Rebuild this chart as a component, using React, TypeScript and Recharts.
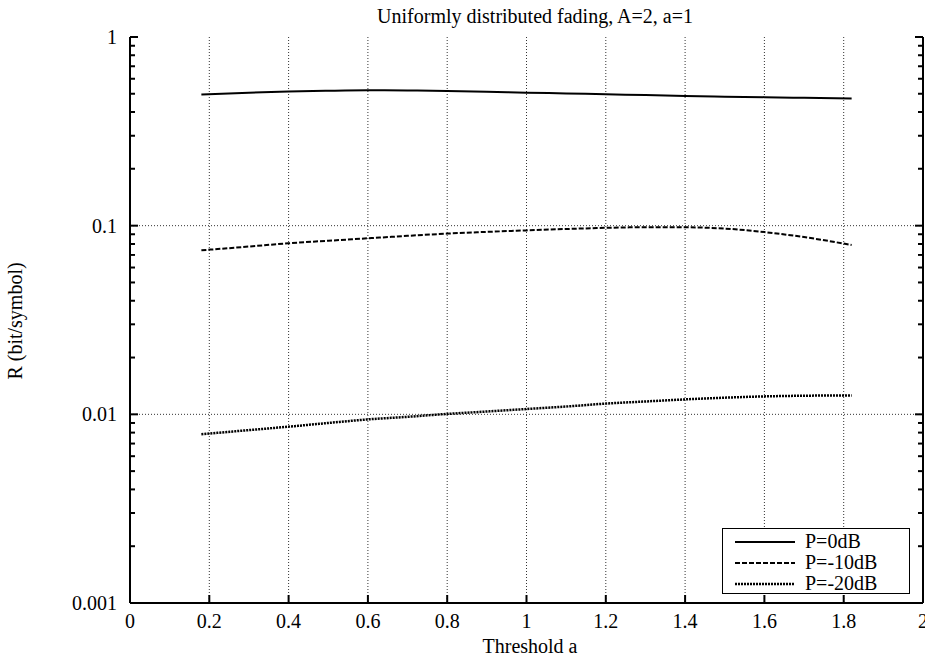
import React from "react"
import {
  ComposedChart,
  Line,
  Scatter,
  XAxis,
  YAxis,
  CartesianGrid,
  ReferenceLine,
} from "recharts"

const thresholds = [0.18, 0.3, 0.4, 0.5, 0.6, 0.7, 0.8, 0.9, 1.0, 1.1, 1.2, 1.3, 1.4, 1.5, 1.6, 1.7, 1.82]
const p0dB = [0.496, 0.507, 0.514, 0.519, 0.522, 0.521, 0.518, 0.513, 0.507, 0.502, 0.497, 0.492, 0.487, 0.483, 0.48, 0.476, 0.472]
const p10dB = [0.074, 0.0775, 0.0807, 0.0832, 0.0857, 0.0883, 0.0908, 0.0927, 0.0944, 0.096, 0.0974, 0.0981, 0.098, 0.0965, 0.0925, 0.087, 0.079]
const p20dB = [0.00784, 0.00825, 0.0086, 0.009, 0.0094, 0.0097, 0.01005, 0.01035, 0.01067, 0.011, 0.0114, 0.0117, 0.012, 0.01225, 0.01245, 0.01255, 0.0126]

const xTicks = [0, 0.2, 0.4, 0.6, 0.8, 1, 1.2, 1.4, 1.6, 1.8, 2]
const yMajor = [0.001, 0.01, 0.1, 1]
const yMinor = [
  0.002, 0.003, 0.004, 0.005, 0.006, 0.007, 0.008, 0.009,
  0.02, 0.03, 0.04, 0.05, 0.06, 0.07, 0.08, 0.09,
  0.2, 0.3, 0.4, 0.5, 0.6, 0.7, 0.8, 0.9,
]

const series = [
  { key: "p0", name: "P=0dB", dash: undefined as string | undefined, width: 2 },
  { key: "p10", name: "P=-10dB", dash: "5 2", width: 2 },
  { key: "p20", name: "P=-20dB", dash: "2 1", width: 2.5 },
]

const data = thresholds.map((x, i) => ({ x, p0: p0dB[i], p10: p10dB[i], p20: p20dB[i] }))
// minor log ticks, drawn as tiny marks on both frame sides
const minorLeft = yMinor.map((v) => ({ x: 0, y: v }))
const minorRight = yMinor.map((v) => ({ x: 2, y: v }))

const FONT = "'Liberation Serif', 'DejaVu Serif', serif"

function BottomTick(props: any) {
  const { x, y, payload } = props
  return (
    <g>
      <line x1={x} x2={x} y1={y} y2={y - 8} stroke="#000" strokeWidth={2} />
      <text x={x} y={y + 25} textAnchor="middle" fontFamily={FONT} fontSize={20} fill="#000">
        {String(payload.value)}
      </text>
    </g>
  )
}

function TopTick(props: any) {
  const { x, y } = props
  return <line x1={x} x2={x} y1={y} y2={y + 8} stroke="#000" strokeWidth={2} />
}

function LeftTick(props: any) {
  const { x, y, payload } = props
  return (
    <g>
      <line x1={x} x2={x + 8} y1={y} y2={y} stroke="#000" strokeWidth={2} />
      <text x={x - 13} y={y + 7} textAnchor="end" fontFamily={FONT} fontSize={20} fill="#000">
        {String(payload.value)}
      </text>
    </g>
  )
}

function RightTick(props: any) {
  const { x, y } = props
  return <line x1={x} x2={x - 8} y1={y} y2={y} stroke="#000" strokeWidth={2} />
}

function MinorLeft(props: any) {
  const { cx, cy } = props
  return <line x1={cx} x2={cx + 5} y1={cy} y2={cy} stroke="#000" strokeWidth={2} />
}

function MinorRight(props: any) {
  const { cx, cy } = props
  return <line x1={cx - 5} x2={cx} y1={cy} y2={cy} stroke="#000" strokeWidth={2} />
}

function LegendBox() {
  return (
    <div
      style={{
        position: "absolute",
        left: 722,
        top: 528,
        width: 188,
        height: 66,
        border: "1.5px solid #000",
        background: "#fff",
        boxSizing: "border-box",
        fontFamily: FONT,
        fontSize: 20,
        paddingTop: 2,
      }}
    >
      {series.map((s) => (
        <div key={s.key} style={{ display: "flex", alignItems: "center", height: 21 }}>
          <svg width={82} height={10} style={{ flex: "none" }}>
            <line x1={12} x2={72} y1={5} y2={5} stroke="#000" strokeWidth={s.width} strokeDasharray={s.dash} />
          </svg>
          <span style={{ lineHeight: "21px" }}>{s.name}</span>
        </div>
      ))}
    </div>
  )
}

export default function App() {
  return (
    <div style={{ position: "absolute", left: 0, top: 0, width: 925, height: 658, background: "#fff" }}>
      <ComposedChart width={925} height={658} data={data} margin={{ top: 37, right: 0, bottom: 0, left: 0 }}>
        <CartesianGrid horizontal={false} stroke="#333" strokeDasharray="1 2" />
        <ReferenceLine y={0.1} stroke="#333" strokeDasharray="1 2" />
        <ReferenceLine y={0.01} stroke="#333" strokeDasharray="1 2" />
        <XAxis
          dataKey="x"
          type="number"
          domain={[0, 2]}
          ticks={xTicks}
          interval={0}
          height={55}
          tickSize={0}
          tickMargin={0}
          tickLine={false}
          axisLine={{ stroke: "#000", strokeWidth: 2 }}
          tick={<BottomTick />}
        />
        <XAxis
          xAxisId="top"
          orientation="top"
          dataKey="x"
          type="number"
          domain={[0, 2]}
          ticks={xTicks}
          interval={0}
          height={0}
          tickSize={0}
          tickMargin={0}
          tickLine={false}
          axisLine={{ stroke: "#000", strokeWidth: 2 }}
          tick={<TopTick />}
        />
        <YAxis
          type="number"
          scale="log"
          domain={[0.001, 1]}
          allowDataOverflow
          ticks={yMajor}
          interval={0}
          width={130}
          tickSize={0}
          tickMargin={0}
          tickLine={false}
          axisLine={{ stroke: "#000", strokeWidth: 2 }}
          tick={<LeftTick />}
        />
        <YAxis
          yAxisId="right"
          orientation="right"
          type="number"
          scale="log"
          domain={[0.001, 1]}
          allowDataOverflow
          ticks={yMajor}
          interval={0}
          width={2}
          tickSize={0}
          tickMargin={0}
          tickLine={false}
          axisLine={{ stroke: "#000", strokeWidth: 2 }}
          tick={<RightTick />}
        />
        <Scatter data={minorLeft} dataKey="y" shape={<MinorLeft />} isAnimationActive={false} />
        <Scatter data={minorRight} dataKey="y" shape={<MinorRight />} isAnimationActive={false} />
        {series.map((s) => (
          <Line
            key={s.key}
            dataKey={s.key}
            name={s.name}
            type="monotone"
            stroke="#000"
            strokeWidth={s.width}
            strokeDasharray={s.dash}
            dot={false}
            activeDot={false}
            isAnimationActive={false}
          />
        ))}
      </ComposedChart>
      <LegendBox />
      <svg
        width={925}
        height={658}
        style={{ position: "absolute", left: 0, top: 0, pointerEvents: "none" }}
      >
        <text x={535} y={23} textAnchor="middle" fontFamily={FONT} fontSize={20} fill="#000">
          Uniformly distributed fading, A=2, a=1
        </text>
        <text x={530} y={653} textAnchor="middle" fontFamily={FONT} fontSize={20} fill="#000">
          Threshold a
        </text>
        <text
          x={22}
          y={321}
          textAnchor="middle"
          fontFamily={FONT}
          fontSize={20}
          fill="#000"
          transform="rotate(-90 22 321)"
        >
          R (bit/symbol)
        </text>
      </svg>
    </div>
  )
}
